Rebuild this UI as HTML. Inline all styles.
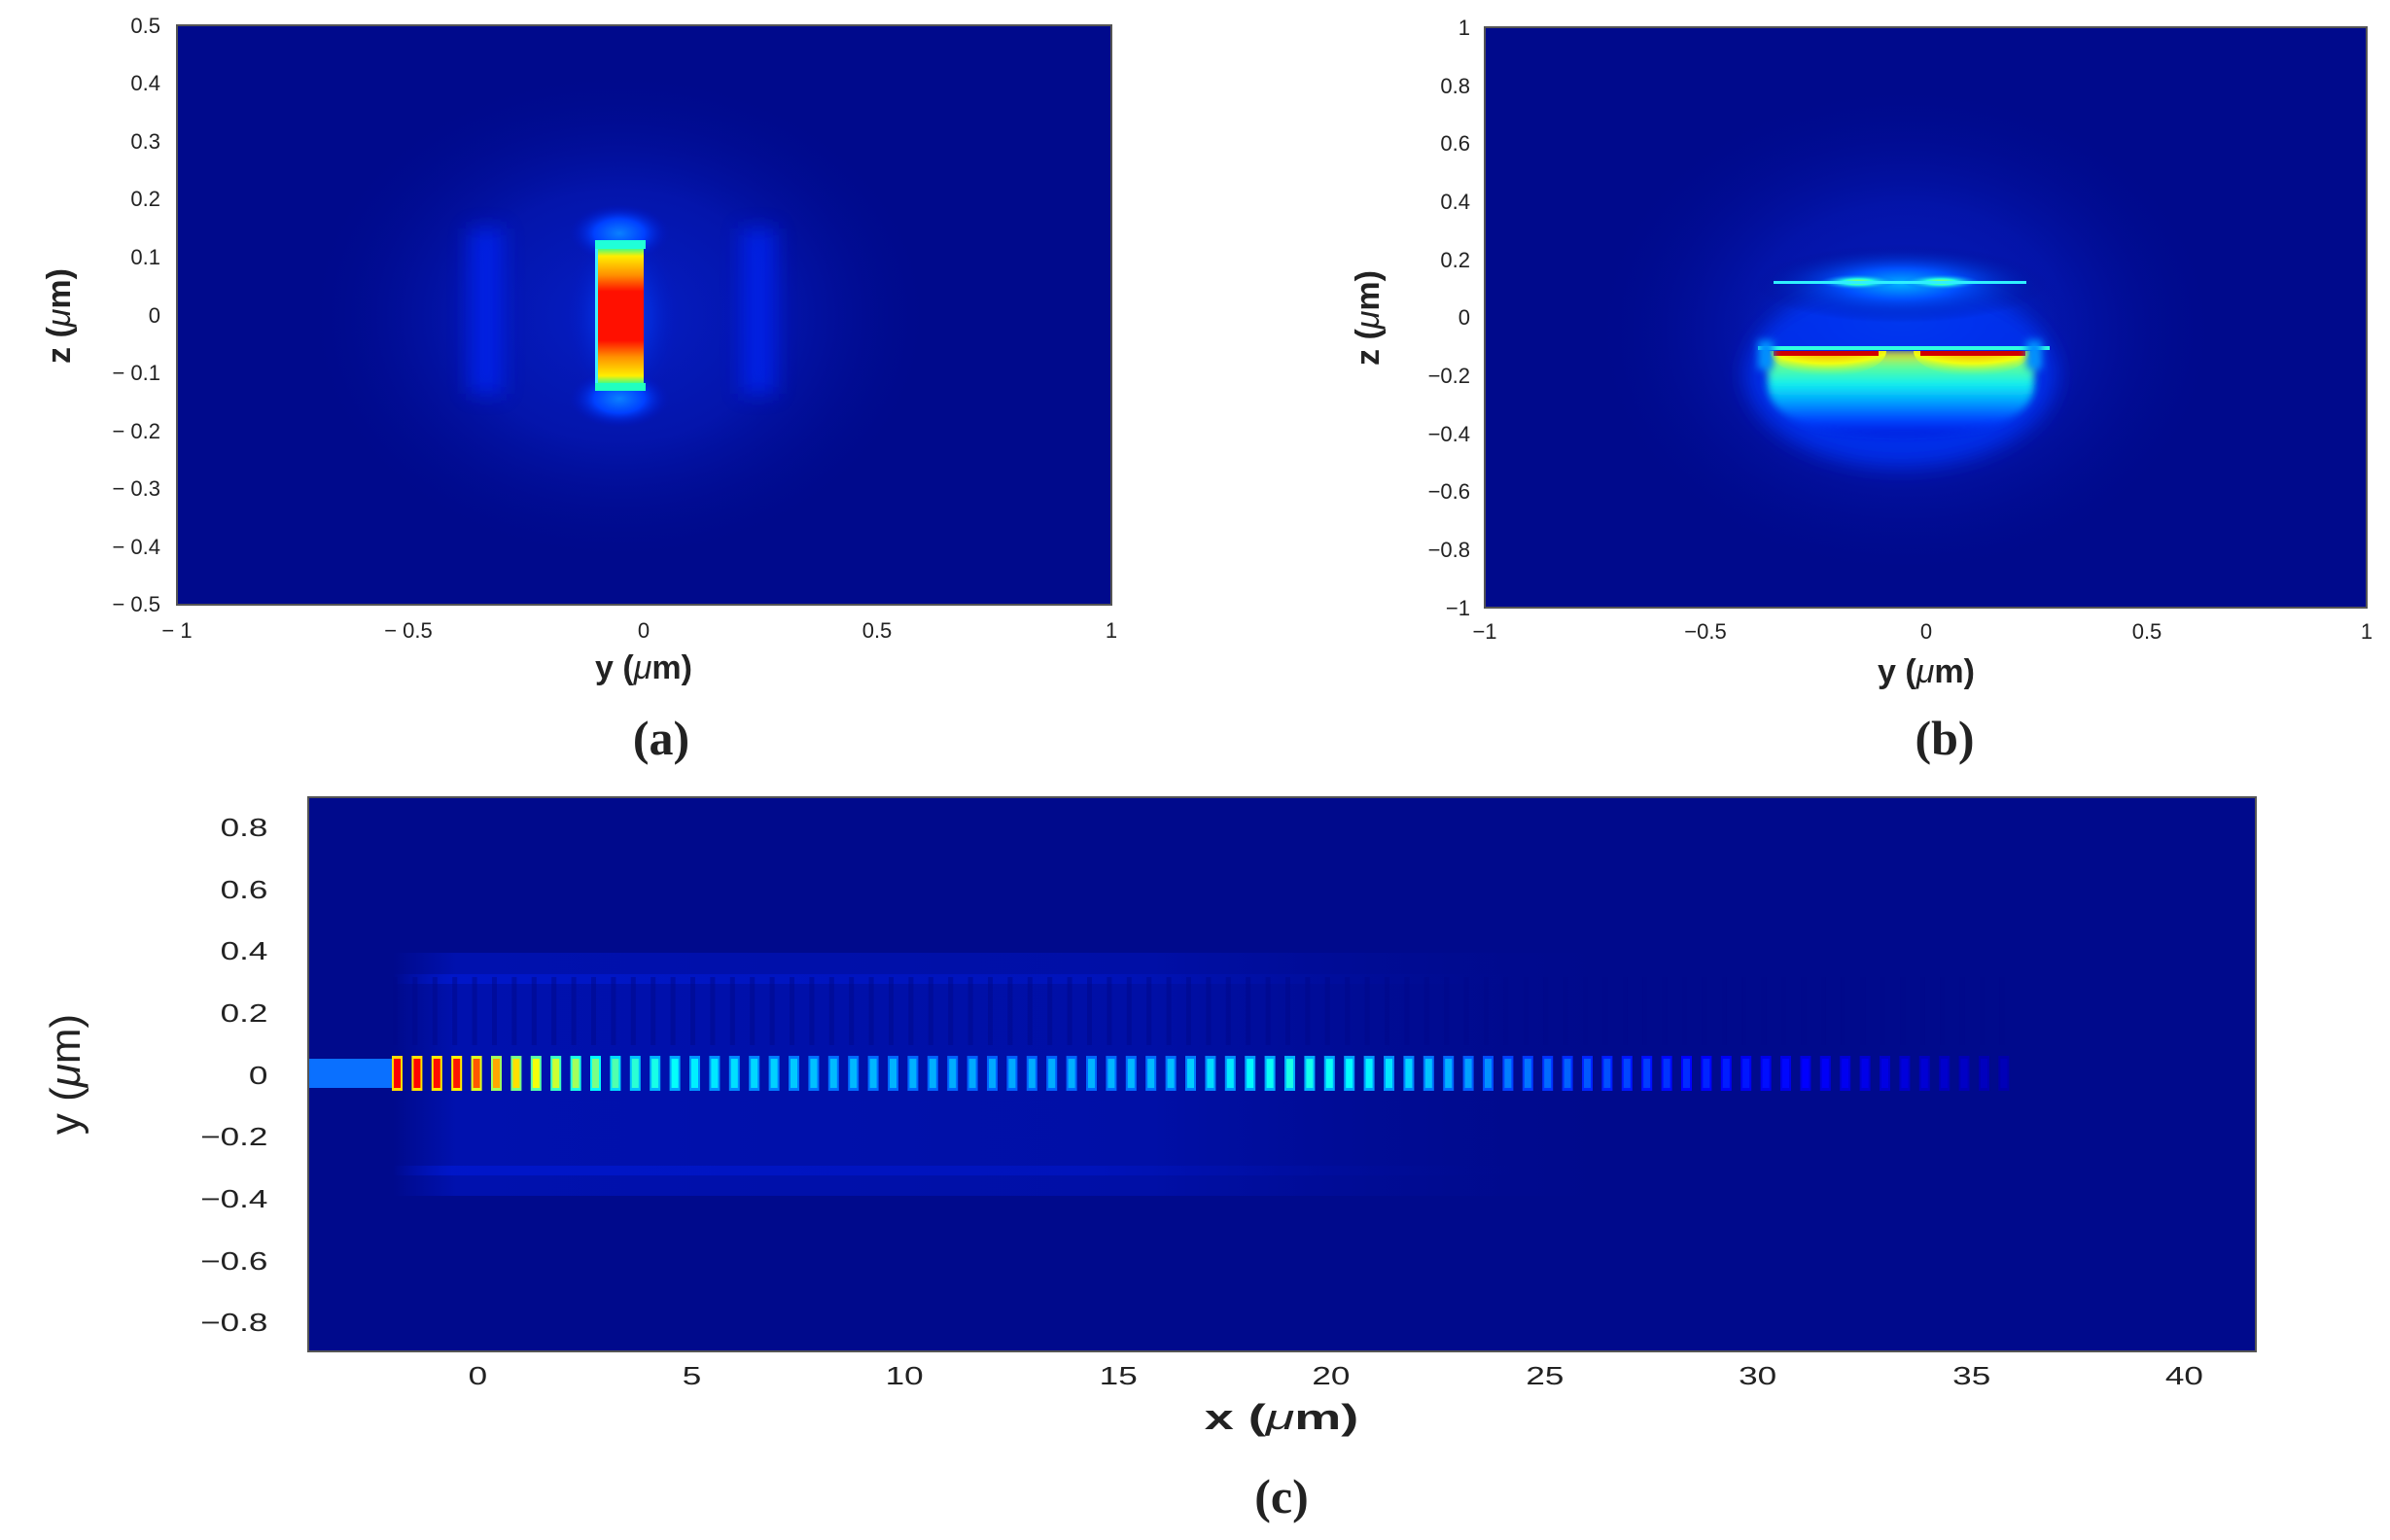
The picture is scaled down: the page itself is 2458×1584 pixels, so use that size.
<!DOCTYPE html>
<html><head><meta charset="utf-8"><style>
html,body{margin:0;padding:0;background:#fff;}
svg{display:block;}
text{font-family:"Liberation Sans",Arial,sans-serif;fill:#222;}
</style></head><body>
<svg id="s" width="2458" height="1584" viewBox="0 0 2458 1584" xmlns="http://www.w3.org/2000/svg">
<defs>
<filter id="bl4" x="-50%" y="-50%" width="200%" height="200%"><feGaussianBlur stdDeviation="4"/></filter>
<filter id="bl10" x="-50%" y="-50%" width="200%" height="200%"><feGaussianBlur stdDeviation="10"/></filter>
<radialGradient id="ga" cx="0.5" cy="0.5" r="0.5">
<stop offset="0" stop-color="#0a2ae8"/><stop offset="0.5" stop-color="#061cc0"/><stop offset="1" stop-color="#000a8c" stop-opacity="0"/></radialGradient>
<linearGradient id="barA" x1="0" y1="0" x2="0" y2="1">
<stop offset="0" stop-color="#30ff90"/><stop offset="0.06" stop-color="#ffee00"/><stop offset="0.2" stop-color="#ff9000"/><stop offset="0.32" stop-color="#ff1000"/><stop offset="0.68" stop-color="#ff1000"/><stop offset="0.8" stop-color="#ff9000"/><stop offset="0.94" stop-color="#ffee00"/><stop offset="1" stop-color="#30ff90"/></linearGradient>
<radialGradient id="capA" cx="0.5" cy="0.5" r="0.5">
<stop offset="0" stop-color="#0a80ff"/><stop offset="0.5" stop-color="#0040ff"/><stop offset="1" stop-color="#0010c0" stop-opacity="0"/></radialGradient>
<radialGradient id="gb" cx="0.5" cy="0.5" r="0.5">
<stop offset="0" stop-color="#00b0ff"/><stop offset="0.4" stop-color="#0050ff"/><stop offset="1" stop-color="#000c90" stop-opacity="0"/></radialGradient>
<linearGradient id="gbLow" gradientUnits="userSpaceOnUse" x1="0" y1="361" x2="0" y2="445">
<stop offset="0" stop-color="#ffd000"/><stop offset="0.18" stop-color="#60ff90"/><stop offset="0.4" stop-color="#10f0f0"/><stop offset="0.62" stop-color="#00a0ff"/><stop offset="0.85" stop-color="#0040ff"/><stop offset="1" stop-color="#0020e0"/></linearGradient>
<radialGradient id="lobe" cx="0.5" cy="0" r="1">
<stop offset="0" stop-color="#e00000"/><stop offset="0.25" stop-color="#ff3000"/><stop offset="0.5" stop-color="#ffa000"/><stop offset="0.75" stop-color="#f0ff10"/><stop offset="1" stop-color="#60ff90" stop-opacity="0"/></radialGradient>
<radialGradient id="upl" cx="0.5" cy="0.5" r="0.5">
<stop offset="0" stop-color="#c0ff30"/><stop offset="0.4" stop-color="#20ffe0"/><stop offset="1" stop-color="#0060ff" stop-opacity="0"/></radialGradient>
<linearGradient id="side" x1="0" y1="0" x2="1" y2="0">
<stop offset="0" stop-color="#0018d0" stop-opacity="0"/><stop offset="0.05" stop-color="#0018d0"/><stop offset="0.6" stop-color="#0014c0"/><stop offset="1" stop-color="#000a8c" stop-opacity="0"/></linearGradient>
<clipPath id="below"><rect x="1800" y="361" width="320" height="160"/></clipPath>
<clipPath id="pb"><rect x="1527" y="28" width="907" height="597"/></clipPath>
</defs>

<!-- Panel a -->
<rect x="182" y="26" width="961" height="596" fill="#000a8c"/>
<ellipse cx="637" cy="325" rx="330" ry="260" fill="url(#ga)" opacity="0.6"/>
<g filter="url(#bl10)" opacity="0.8">
<rect x="482" y="235" width="36" height="170" fill="#0624f0"/>
<rect x="762" y="235" width="36" height="170" fill="#0624f0"/>
</g>
<rect x="580" y="230" width="120" height="190" fill="url(#capA)" opacity="0.35"/>
<ellipse cx="637" cy="240" rx="52" ry="30" fill="url(#capA)"/>
<ellipse cx="637" cy="410" rx="52" ry="30" fill="url(#capA)"/>
<rect x="612" y="255" width="50" height="140" fill="url(#barA)"/>
<rect x="612" y="255" width="3" height="140" fill="#40f0ff"/>
<rect x="612" y="247" width="52" height="9" fill="#20ffd8"/>
<rect x="612" y="394" width="52" height="8" fill="#20ffc0"/>
<rect x="182" y="26" width="961" height="596" fill="none" stroke="#555" stroke-width="2"/>
<g font-size="22" text-anchor="end">
<text x="165" y="34">0.5</text><text x="165" y="93">0.4</text><text x="165" y="153">0.3</text><text x="165" y="212">0.2</text><text x="165" y="272">0.1</text><text x="165" y="332">0</text><text x="165" y="391">− 0.1</text><text x="165" y="451">− 0.2</text><text x="165" y="510">− 0.3</text><text x="165" y="570">− 0.4</text><text x="165" y="629">− 0.5</text>
</g>
<g font-size="22" text-anchor="middle">
<text x="182" y="656">− 1</text><text x="420" y="656">− 0.5</text><text x="662" y="656">0</text><text x="902" y="656">0.5</text><text x="1143" y="656">1</text>
</g>
<text x="662" y="698" font-size="34" font-weight="bold" text-anchor="middle">y (<tspan font-style="italic" font-weight="normal">μ</tspan>m)</text>
<text transform="translate(72,325) rotate(-90)" font-size="34" font-weight="bold" text-anchor="middle">z (<tspan font-style="italic" font-weight="normal">μ</tspan>m)</text>
<text x="680" y="776" font-size="50" font-weight="bold" text-anchor="middle" style="font-family:'Liberation Serif',serif">(a)</text>

<!-- Panel b -->
<rect x="1527" y="28" width="907" height="597" fill="#000a8c"/>
<g clip-path="url(#pb)">
<ellipse cx="1960" cy="340" rx="330" ry="260" fill="url(#ga)" opacity="0.55"/>
<ellipse cx="1955" cy="330" rx="180" ry="80" fill="url(#gb)" opacity="0.6"/>
<g filter="url(#bl10)">
<ellipse cx="1955" cy="385" rx="160" ry="95" fill="#0030f0" opacity="0.9"/>
</g>
<g clip-path="url(#below)">
<path d="M1818,361 H2092 V395 Q2092,448 1955,448 Q1818,448 1818,395 Z" fill="url(#gbLow)" filter="url(#bl4)"/>
<ellipse cx="1880" cy="361" rx="60" ry="26" fill="url(#lobe)"/>
<ellipse cx="2028" cy="361" rx="60" ry="26" fill="url(#lobe)"/>
</g>
<ellipse cx="1955" cy="292" rx="150" ry="40" fill="url(#gb)"/>
<ellipse cx="1911" cy="290" rx="40" ry="8" fill="url(#upl)"/>
<ellipse cx="1996" cy="290" rx="40" ry="8" fill="url(#upl)"/>
<rect x="1824" y="289" width="260" height="3" fill="#30f0ff"/>
<rect x="1808" y="356" width="300" height="4" fill="#30ffe0"/>
<rect x="1824" y="361" width="108" height="5" fill="#d00000"/>
<rect x="1975" y="361" width="108" height="5" fill="#d00000"/>
<g filter="url(#bl4)">
<rect x="1808" y="350" width="16" height="30" fill="#0090ff"/>
<rect x="2084" y="350" width="16" height="30" fill="#0090ff"/>
</g>
</g>
<rect x="1527" y="28" width="907" height="597" fill="none" stroke="#555" stroke-width="2"/>
<g font-size="22" text-anchor="end">
<text x="1512" y="36">1</text><text x="1512" y="96">0.8</text><text x="1512" y="155">0.6</text><text x="1512" y="215">0.4</text><text x="1512" y="275">0.2</text><text x="1512" y="334">0</text><text x="1512" y="394">−0.2</text><text x="1512" y="454">−0.4</text><text x="1512" y="513">−0.6</text><text x="1512" y="573">−0.8</text><text x="1512" y="633">−1</text>
</g>
<g font-size="22" text-anchor="middle">
<text x="1527" y="657">−1</text><text x="1754" y="657">−0.5</text><text x="1981" y="657">0</text><text x="2208" y="657">0.5</text><text x="2434" y="657">1</text>
</g>
<text x="1981" y="702" font-size="34" font-weight="bold" text-anchor="middle">y (<tspan font-style="italic" font-weight="normal">μ</tspan>m)</text>
<text transform="translate(1418,327) rotate(-90)" font-size="34" font-weight="bold" text-anchor="middle">z (<tspan font-style="italic" font-weight="normal">μ</tspan>m)</text>
<text x="2000" y="776" font-size="50" font-weight="bold" text-anchor="middle" style="font-family:'Liberation Serif',serif">(b)</text>

<!-- Panel c -->
<rect x="317" y="820" width="2003" height="570" fill="#000a8c"/>
<rect x="404" y="980" width="1300" height="250" fill="url(#side)" opacity="0.5"/>
<rect x="404" y="1002" width="1200" height="10" fill="url(#side)" opacity="0.8"/>
<rect x="404" y="1199" width="1200" height="10" fill="url(#side)" opacity="0.8"/>
<rect x="317" y="1089" width="87" height="30" fill="#0a70ff"/>
<g id="bars"></g>
<rect x="317" y="820" width="2003" height="570" fill="none" stroke="#555" stroke-width="2"/>
<g font-size="26" text-anchor="end" transform="scale(1.35,1)">
<text x="204" y="860">0.8</text><text x="204" y="924">0.6</text><text x="204" y="987">0.4</text><text x="204" y="1051">0.2</text><text x="204" y="1115">0</text><text x="204" y="1178">−0.2</text><text x="204" y="1242">−0.4</text><text x="204" y="1306">−0.6</text><text x="204" y="1369">−0.8</text>
</g>
<g font-size="26" text-anchor="middle" transform="scale(1.35,1)">
<text x="364" y="1424">0</text><text x="527" y="1424">5</text><text x="689" y="1424">10</text><text x="852" y="1424">15</text><text x="1014" y="1424">20</text><text x="1177" y="1424">25</text><text x="1339" y="1424">30</text><text x="1502" y="1424">35</text><text x="1664" y="1424">40</text>
</g>
<text transform="translate(1318,1470) scale(1.5,1)" font-size="36" font-weight="bold" text-anchor="middle">x  (<tspan font-style="italic" font-weight="normal">μ</tspan>m)</text>
<text transform="translate(82,1105) rotate(-90)" font-size="44" text-anchor="middle">y (<tspan font-style="italic">μ</tspan>m)</text>
<text x="1318" y="1556" font-size="50" font-weight="bold" text-anchor="middle" style="font-family:'Liberation Serif',serif">(c)</text>
</svg>
<script>
function jet(v){var c=function(x){return Math.round(255*Math.max(0,Math.min(1,x)));};
return 'rgb('+c(1.5-Math.abs(4*v-3))+','+c(1.5-Math.abs(4*v-2))+','+c(1.5-Math.abs(4*v-1))+')';}
var pts=[[-2,0.88],[-0.5,0.85],[0.5,0.68],[2,0.55],[3.5,0.42],[5,0.36],[8,0.31],[12,0.29],[16,0.31],[19,0.40],[21,0.36],[24,0.25],[28,0.17],[32,0.11],[36,0.05]];
function val(x){for(var i=0;i<pts.length-1;i++){if(x<=pts[i+1][0]){var t=(x-pts[i][0])/(pts[i+1][0]-pts[i][0]);return pts[i][1]+t*(pts[i+1][1]-pts[i][1]);}}return 0.03;}
var g=document.getElementById('bars'),h='';
for(var px=404;px<2070;px+=20.4){var x=(px-492)/43.9;var v=val(x);
h+='<rect x="'+(px-1).toFixed(1)+'" y="1086" width="11" height="36" fill="'+jet(v*0.75)+'"/>';
h+='<rect x="'+(px+1).toFixed(1)+'" y="1089" width="7" height="30" fill="'+jet(v)+'"/>';
h+='<rect x="'+(px).toFixed(1)+'" y="1005" width="5" height="70" fill="#00088a" opacity="0.5"/>';
}
g.innerHTML=h;
</script>
</body></html>
